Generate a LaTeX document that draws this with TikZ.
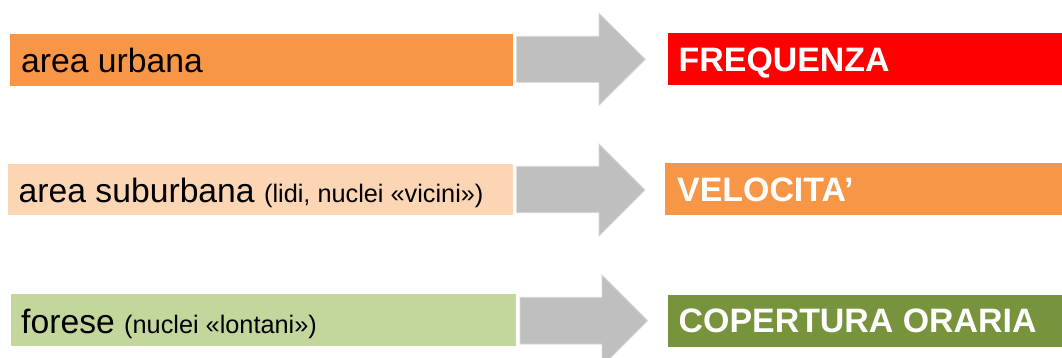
\documentclass[tikz,border=0pt]{standalone}
\usepackage{fontspec}
\setmainfont{Liberation Sans}
\definecolor{cOrange}{HTML}{F79646}
\definecolor{cPeach}{HTML}{FCD5B5}
\definecolor{cLgreen}{HTML}{C3D69B}
\definecolor{cOlive}{HTML}{77933C}
\definecolor{cRed}{HTML}{FF0000}
\definecolor{cGray}{HTML}{BFBFBF}
\definecolor{cGrayEdge}{HTML}{D6D6D6}
\newcommand{\bigsz}{\fontsize{33.7}{40}\selectfont}
\newcommand{\smallsz}{\fontsize{25.3}{30}\selectfont}
\begin{document}
\begin{tikzpicture}[x=1pt,y=-1pt,
  box/.style={anchor=north west, inner sep=0pt, outer sep=0pt, draw=none},
  lefttext/.style={anchor=base west, inner sep=0pt, text=black},
  righttext/.style={anchor=base west, inner sep=0pt, text=white,
    font=\fontsize{33.9}{40}\selectfont\bfseries},
  blockarrow/.style={fill=cGray, draw=cGrayEdge, line width=0.8pt, line join=miter}]
\useasboundingbox (0,0) rectangle (1062,358);
\clip (0,0) rectangle (1062,358);

% left boxes
\node[box, fill=cOrange, minimum width=503pt, minimum height=52pt] (b1) at (10,33.7) {};
\node[box, fill=cPeach,  minimum width=505pt, minimum height=51.6pt] (b2) at (8,163.7) {};
\node[box, fill=cLgreen, minimum width=504.7pt, minimum height=51.7pt] (b3) at (11,294) {};

% right boxes
\node[box, fill=cRed,   minimum width=400pt, minimum height=52pt] (r1) at (667.7,33) {};
\node[box, fill=cOrange, minimum width=400pt, minimum height=51.7pt] (r2) at (665,163) {};
\node[box, fill=cOlive, minimum width=400pt, minimum height=52pt] (r3) at (668,294.7) {};

% left texts
\node[lefttext] (t1) at (21,72.8) {\bigsz area urbana};
\node[lefttext] (t2) at (18.5,202.5) {\bigsz area suburbana \smallsz(lidi, nuclei «vicini»)};
\node[lefttext] (t3) at (21,333.5) {\bigsz forese \smallsz(nuclei «lontani»)};

% right texts
\node[righttext] (u1) at (678.5,71.3) {FREQUENZA};
\node[righttext] (u2) at (677,201.7) {VELOCITA’};
\node[righttext] (u3) at (678.5,332.8) {COPERTURA ORARIA};

% block arrows
\draw[blockarrow] (516.7,36.3) -- (599,36.3) -- (599,13.3) -- (645.3,59.3)
  -- (599,105.3) -- (599,82.3) -- (516.7,82.3) -- cycle;
\draw[blockarrow] (516.7,166.3) -- (599,166.3) -- (599,144) -- (645,190)
  -- (599,236) -- (599,212.7) -- (516.7,212.7) -- cycle;
\draw[blockarrow] (520,297.3) -- (602,297.3) -- (602,275) -- (647.7,320.7)
  -- (602,366.4) -- (602,344) -- (520,344) -- cycle;
\end{tikzpicture}
\end{document}
